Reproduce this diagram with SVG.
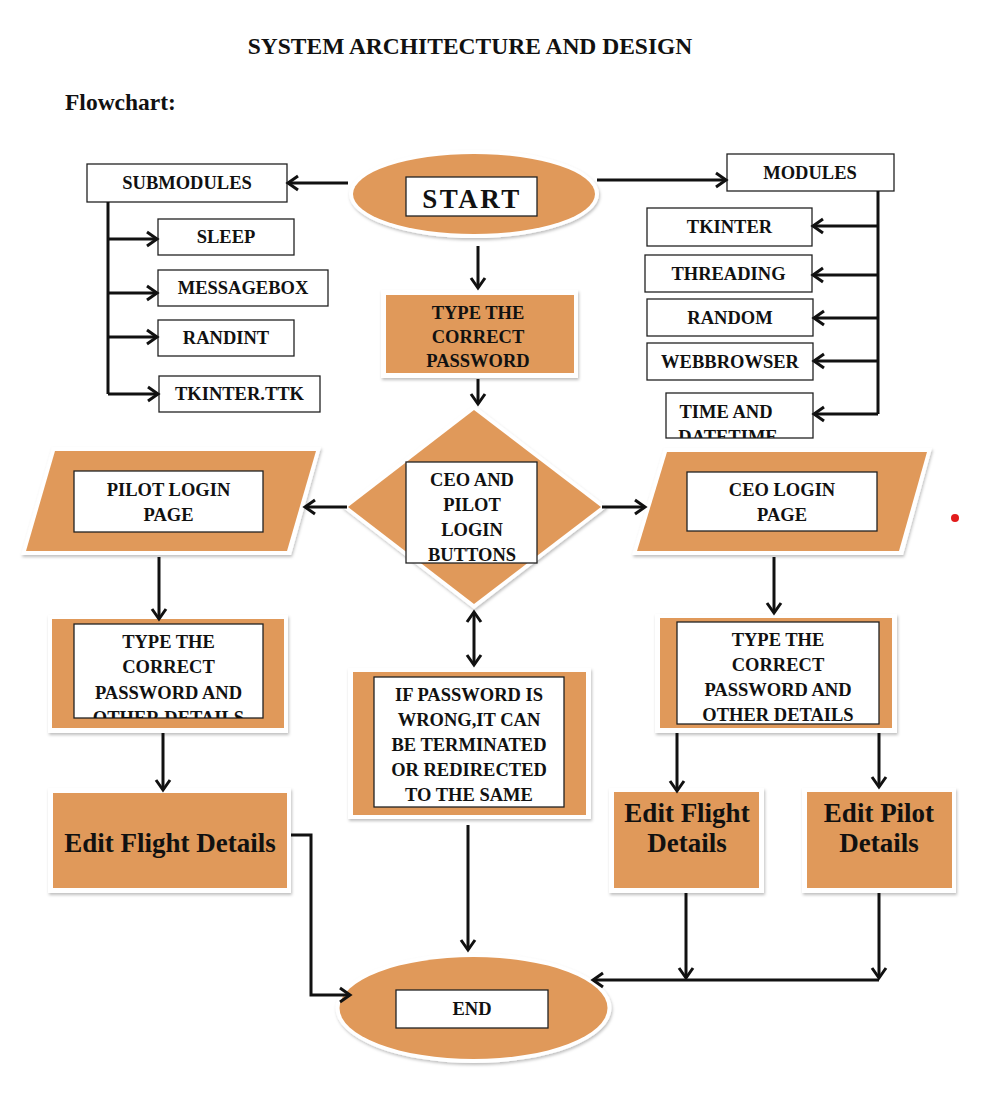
<svg xmlns="http://www.w3.org/2000/svg" width="1000" height="1108" viewBox="0 0 1000 1108">
<style>
.bx{fill:#fff;stroke:#222;stroke-width:1.3}
.or{fill:#E0995A}
.fr{fill:#fff;filter:url(#sh)}
.t{font-family:"Liberation Serif","Times New Roman",serif;font-weight:bold;font-size:18.5px;text-anchor:middle;fill:#111}
.big{font-size:27px}
.hd{font-size:23.5px}
.c{stroke:#111;stroke-width:3;fill:none}
.a{marker-end:url(#ah)}
</style>
<defs>
<filter id="sh" x="-10%" y="-10%" width="120%" height="130%">
<feDropShadow dx="1" dy="2" stdDeviation="1.5" flood-color="#000" flood-opacity="0.25"/>
</filter>
<marker id="ah" markerUnits="userSpaceOnUse" markerWidth="24" markerHeight="24" viewBox="-12 -12 24 24" refX="0" refY="0" orient="auto-start-reverse" overflow="visible">
<path d="M-10,-7 L0,0 L-10,7" fill="none" stroke="#111" stroke-width="3"/>
</marker>
<clipPath id="clipTime"><rect x="666" y="393" width="147" height="45"/></clipPath>
<clipPath id="clipPilotPw"><rect x="74" y="624" width="189" height="94"/></clipPath>
</defs>

<rect width="1000" height="1108" fill="#fff"/>

<text class="t hd" x="470" y="54">SYSTEM ARCHITECTURE AND DESIGN</text>
<text class="t hd" x="65" y="110" style="text-anchor:start">Flowchart:</text>

<g id="start">
<ellipse cx="474" cy="194" rx="125" ry="44" fill="#fff" filter="url(#sh)"/>
<ellipse class="or" cx="474" cy="194" rx="121" ry="40"/>
<rect class="bx" x="406" y="177" width="131" height="39"/>
<text class="t big" x="472" y="208" style="letter-spacing:2.5px">START</text>
</g>

<g id="submodules">
<rect class="bx" x="87" y="164" width="200" height="38"/>
<text class="t" x="187" y="189">SUBMODULES</text>
</g>
<g id="sleep">
<rect class="bx" x="158" y="219" width="136" height="36"/>
<text class="t" x="226" y="243">SLEEP</text>
</g>
<g id="messagebox">
<rect class="bx" x="158" y="270" width="170" height="36"/>
<text class="t" x="243" y="294">MESSAGEBOX</text>
</g>
<g id="randint">
<rect class="bx" x="158" y="320" width="136" height="36"/>
<text class="t" x="226" y="344">RANDINT</text>
</g>
<g id="tkinterttk">
<rect class="bx" x="159" y="376" width="161" height="36"/>
<text class="t" x="239.5" y="400">TKINTER.TTK</text>
</g>

<g id="modules">
<rect class="bx" x="727" y="154" width="167" height="37"/>
<text class="t" x="810" y="179">MODULES</text>
</g>
<g id="tkinter">
<rect class="bx" x="647" y="208" width="165" height="38"/>
<text class="t" x="729.5" y="233">TKINTER</text>
</g>
<g id="threading">
<rect class="bx" x="645" y="255" width="167" height="37"/>
<text class="t" x="728.5" y="280">THREADING</text>
</g>
<g id="random">
<rect class="bx" x="647" y="299" width="166" height="37"/>
<text class="t" x="730" y="324">RANDOM</text>
</g>
<g id="webbrowser">
<rect class="bx" x="647" y="343" width="166" height="37"/>
<text class="t" x="730" y="368">WEBBROWSER</text>
</g>
<g id="timedatetime">
<rect class="bx" x="666" y="393" width="147" height="45"/>
<g clip-path="url(#clipTime)">
<text class="t" x="726" y="418">TIME AND</text>
<text class="t" x="728" y="443">DATETIME</text>
</g>
</g>

<g id="password">
<rect class="fr" x="381" y="290" width="197" height="88"/>
<rect class="or" x="386" y="295" width="188" height="78"/>
<text class="t" x="478" y="319">TYPE THE</text>
<text class="t" x="478" y="343">CORRECT</text>
<text class="t" x="478" y="367">PASSWORD</text>
</g>

<g id="decision">
<polygon points="474,405 607,507 474,609 342,507" fill="#fff" filter="url(#sh)"/>
<polygon class="or" points="474,410 601,507 474,604 348,507"/>
<rect class="bx" x="406" y="462" width="131" height="101"/>
<text class="t" x="472" y="486">CEO AND</text>
<text class="t" x="472" y="511">PILOT</text>
<text class="t" x="472" y="536">LOGIN</text>
<text class="t" x="472" y="561">BUTTONS</text>
</g>

<g id="pilotlogin">
<polygon points="52,447 321,447 291,555 21,555" fill="#fff" filter="url(#sh)"/>
<polygon class="or" points="55,451 316,451 287,551 26,551"/>
<rect class="bx" x="74" y="471" width="189" height="61"/>
<text class="t" x="168.5" y="496">PILOT LOGIN</text>
<text class="t" x="168.5" y="521">PAGE</text>
</g>

<g id="ceologin">
<polygon points="664,448 932,448 903,555 632,555" fill="#fff" filter="url(#sh)"/>
<polygon class="or" points="667,452 927,452 899,551 637,551"/>
<rect class="bx" x="687" y="472" width="190" height="59"/>
<text class="t" x="782" y="496">CEO LOGIN</text>
<text class="t" x="782" y="521">PAGE</text>
</g>

<g id="pilotpassword">
<rect class="fr" x="48" y="615" width="240" height="118"/>
<rect class="or" x="52" y="619" width="232" height="109"/>
<rect class="bx" x="74" y="624" width="189" height="94"/>
<g clip-path="url(#clipPilotPw)">
<text class="t" x="168.5" y="648">TYPE THE</text>
<text class="t" x="168.5" y="673">CORRECT</text>
<text class="t" x="168.5" y="699">PASSWORD AND</text>
<text class="t" x="168.5" y="724">OTHER DETAILS</text>
</g>
</g>

<g id="ceopassword">
<rect class="fr" x="655" y="614" width="242" height="119"/>
<rect class="or" x="660" y="618" width="232" height="110"/>
<rect class="bx" x="677" y="622" width="202" height="102"/>
<text class="t" x="778" y="646">TYPE THE</text>
<text class="t" x="778" y="671">CORRECT</text>
<text class="t" x="778" y="696">PASSWORD AND</text>
<text class="t" x="778" y="721">OTHER DETAILS</text>
</g>

<g id="wrongpassword">
<rect class="fr" x="348" y="668" width="243" height="151"/>
<rect class="or" x="353" y="672" width="233" height="143"/>
<rect class="bx" x="374" y="677" width="190" height="130"/>
<text class="t" x="469" y="701">IF PASSWORD IS</text>
<text class="t" x="469" y="726">WRONG,IT CAN</text>
<text class="t" x="469" y="751">BE TERMINATED</text>
<text class="t" x="469" y="776">OR REDIRECTED</text>
<text class="t" x="469" y="801">TO THE SAME</text>
</g>

<g id="editflightleft">
<rect class="fr" x="48" y="788" width="243" height="105"/>
<rect class="or" x="53" y="793" width="234" height="95"/>
<text class="t big" x="170" y="852">Edit Flight Details</text>
</g>

<g id="editflightright">
<rect class="fr" x="609" y="788" width="155" height="105"/>
<rect class="or" x="614" y="792" width="145" height="96"/>
<text class="t big" x="687" y="822">Edit Flight</text>
<text class="t big" x="687" y="852">Details</text>
</g>

<g id="editpilot">
<rect class="fr" x="802" y="788" width="154" height="105"/>
<rect class="or" x="807" y="792" width="145" height="96"/>
<text class="t big" x="879" y="822">Edit Pilot</text>
<text class="t big" x="879" y="852">Details</text>
</g>

<g id="end">
<ellipse cx="473.5" cy="1008" rx="138" ry="55" fill="#fff" filter="url(#sh)"/>
<ellipse class="or" cx="473.5" cy="1008" rx="134" ry="51"/>
<rect class="bx" x="396" y="990" width="152" height="38"/>
<text class="t" x="472" y="1015">END</text>
</g>

<g id="connectors">
<line class="c a" x1="348" y1="183" x2="288" y2="183"/>
<line class="c a" x1="597" y1="180" x2="726" y2="180"/>
<polyline class="c" points="108,202 108,394"/>
<line class="c a" x1="108" y1="239" x2="157" y2="239"/>
<line class="c a" x1="108" y1="293" x2="157" y2="293"/>
<line class="c a" x1="108" y1="337" x2="157" y2="337"/>
<line class="c a" x1="108" y1="394" x2="158" y2="394"/>
<polyline class="c" points="878,191 878,414"/>
<line class="c a" x1="878" y1="226" x2="813" y2="226"/>
<line class="c a" x1="878" y1="275" x2="813" y2="275"/>
<line class="c a" x1="878" y1="318" x2="814" y2="318"/>
<line class="c a" x1="878" y1="361" x2="814" y2="361"/>
<line class="c a" x1="878" y1="414" x2="814" y2="414"/>
<line class="c a" x1="478" y1="246" x2="478" y2="288"/>
<line class="c a" x1="478" y1="379" x2="478" y2="404"/>
<line class="c a" x1="347" y1="507" x2="305" y2="507"/>
<line class="c a" x1="602" y1="507" x2="645" y2="507"/>
<line class="c a" x1="159" y1="557" x2="159" y2="619"/>
<line class="c a" x1="774" y1="557" x2="774" y2="613"/>
<line class="c a" x1="474" y1="612" x2="474" y2="665" style="marker-start:url(#ah)"/>
<line class="c a" x1="163" y1="733" x2="163" y2="790"/>
<line class="c a" x1="677" y1="733" x2="677" y2="791"/>
<line class="c a" x1="879" y1="733" x2="879" y2="787"/>
<polyline class="c a" points="291,835 311,835 311,995 350,995"/>
<line class="c a" x1="468" y1="825" x2="468" y2="950"/>
<line class="c a" x1="686" y1="893" x2="686" y2="978"/>
<line class="c a" x1="879" y1="893" x2="879" y2="978"/>
<line class="c a" x1="879" y1="980" x2="593" y2="980"/>
</g>

<circle cx="955" cy="518" r="4" fill="#e21b1b"/>
</svg>
